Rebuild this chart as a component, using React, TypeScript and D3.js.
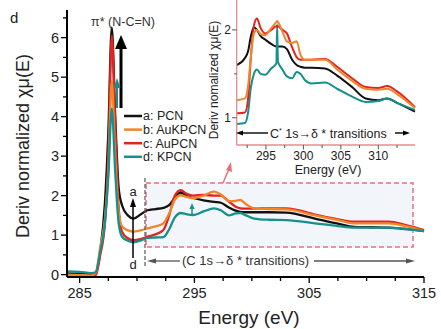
import React from "react";
import * as d3 from "d3";

const seriesNames = ["a: PCN", "b: AuKPCN", "c: AuPCN", "d: KPCN"];
const seriesColors = ["#111111", "#f0862a", "#e2231f", "#16908c"];

const mainEnergy = [283.9, 285, 286, 286.4, 286.8, 287.2, 287.5, 287.8, 288.1, 288.4, 288.7, 289.2, 289.7, 290.3, 290.9, 291.6, 292.3, 292.8, 293.3, 293.8, 294.3, 294.9, 295.8, 296.7, 297.3, 298.0, 298.6, 299.0, 299.5, 300.2, 301.5, 303.0, 305.5, 307.5, 308.9, 310.5, 311.9, 313.5, 315];
const mainPCN = [0.03, 0.02, 0.0, 0.05, 0.6, 1.8, 3.6, 6.25, 4.0, 2.2, 1.75, 1.5, 1.42, 1.52, 1.63, 1.66, 1.69, 1.76, 1.95, 2.08, 1.99, 1.94, 1.88, 1.84, 1.82, 1.7, 1.62, 1.59, 1.58, 1.58, 1.58, 1.57, 1.42, 1.29, 1.21, 1.2, 1.19, 1.15, 1.1];
const mainAuKPCN = [0.0, -0.01, -0.02, 0.05, 0.7, 1.4, 2.6, 4.9, 3.0, 1.6, 1.22, 1.12, 1.09, 1.12, 1.17, 1.22, 1.3, 1.55, 1.9, 2.01, 1.97, 1.94, 2.0, 2.1, 2.03, 1.86, 1.87, 1.89, 1.78, 1.68, 1.66, 1.65, 1.5, 1.38, 1.3, 1.3, 1.3, 1.22, 1.1];
const mainAuPCN = [-0.03, -0.05, -0.06, -0.02, 0.5, 1.3, 3.0, 6.05, 3.8, 1.7, 1.08, 0.92, 0.87, 0.9, 0.96, 1.02, 1.13, 1.5, 2.0, 2.14, 2.05, 2.0, 2.02, 2.0, 2.0, 1.85, 1.72, 1.68, 1.67, 1.67, 1.68, 1.68, 1.52, 1.4, 1.34, 1.34, 1.34, 1.25, 1.13];
const mainKPCN = [0.08, 0.07, 0.04, 0.06, 0.6, 1.3, 2.5, 4.2, 2.6, 1.3, 0.96, 0.86, 0.82, 0.86, 0.93, 0.94, 0.95, 1.15, 1.45, 1.56, 1.53, 1.51, 1.6, 1.68, 1.63, 1.5, 1.55, 1.56, 1.5, 1.42, 1.39, 1.38, 1.3, 1.23, 1.19, 1.19, 1.19, 1.15, 1.1];

const insetEnergy = [291.1, 292.2, 292.6, 293.0, 293.4, 293.8, 294.3, 294.9, 295.7, 296.4, 296.5, 296.6, 297.2, 297.8, 298.5, 299.1, 299.6, 300.2, 301.1, 302.9, 304.5, 306.5, 308.3, 310.0, 311.2, 312.5, 314.9];
const insetPCN = [1.6, 1.68, 1.75, 1.93, 2.03, 2.0, 1.93, 1.89, 1.84, 1.81, 1.81, 1.81, 1.81, 1.78, 1.66, 1.6, 1.58, 1.57, 1.57, 1.56, 1.48, 1.35, 1.22, 1.2, 1.22, 1.17, 1.07];
const insetAuKPCN = [1.2, 1.22, 1.35, 1.7, 1.96, 2.0, 1.95, 1.94, 2.02, 2.09, 2.1, 2.09, 1.98, 1.87, 1.85, 1.87, 1.72, 1.66, 1.66, 1.66, 1.55, 1.42, 1.33, 1.32, 1.33, 1.27, 1.11];
const insetAuPCN = [1.05, 1.06, 1.2, 1.7, 2.05, 2.13, 2.02, 1.96, 2.0, 2.04, 2.04, 2.04, 2.0, 1.96, 1.8, 1.69, 1.66, 1.66, 1.66, 1.67, 1.58, 1.45, 1.35, 1.34, 1.36, 1.3, 1.12];
const insetKPCN = [0.93, 0.94, 1.05, 1.35, 1.5, 1.55, 1.5, 1.49, 1.56, 1.62, 2.06, 1.64, 1.55, 1.47, 1.45, 1.52, 1.5, 1.43, 1.39, 1.4, 1.33, 1.24, 1.18, 1.19, 1.22, 1.17, 1.09];

const mainXTicks = [285, 295, 305, 315];
const mainYTicks = [0, 1, 2, 3, 4, 5, 6];
const insetXTicks = [295, 300, 305, 310];
const insetYTicks = [1, 2];

const FONT = "'Liberation Sans', Arial, Helvetica, sans-serif";

export default function App() {
  const x = d3.scaleLinear().domain([283.9, 315]).range([67, 424]);
  const y = d3.scaleLinear().domain([-0.06, 6.7]).range([277, 10]);
  const ix = d3.scaleLinear().domain([291.1, 314.9]).range([236.7, 415]);
  const iy = d3.scaleLinear().domain([0.69, 2.34]).range([145, 0]);

  const mainSeries = [mainPCN, mainAuKPCN, mainAuPCN, mainKPCN];
  const insetSeries = [insetPCN, insetAuKPCN, insetAuPCN, insetKPCN];
  const drawOrder = [0, 2, 1, 3];
  const insetOrder = [0, 3, 2, 1];

  const mainLine = (vals: number[]) =>
    d3.line<number>().x((_, i) => x(mainEnergy[i])).y((d) => y(d)).curve(d3.curveMonotoneX)(vals) || "";
  const insetLine = (vals: number[]) =>
    d3.line<number>().x((_, i) => ix(insetEnergy[i])).y((d) => iy(d)).curve(d3.curveMonotoneX)(vals) || "";

  const xMinor = d3.range(285, 315.1, 2.5);
  const yMinor = d3.range(0, 6.6, 0.5);
  const ixMinor = d3.range(292.5, 314.9, 2.5);
  const iyMinor = [1, 1.5, 2];

  const head = (tx: number, ty: number, dir: string, len: number, half: number) => {
    if (dir === "up") return `${tx},${ty} ${tx - half},${ty + len} ${tx + half},${ty + len}`;
    if (dir === "left") return `${tx},${ty} ${tx + len},${ty - half} ${tx + len},${ty + half}`;
    return `${tx},${ty} ${tx - len},${ty - half} ${tx - len},${ty + half}`;
  };

  return (
    <svg width={441} height={329} style={{ position: "absolute", left: 0, top: 0, background: "#fff" }} fontFamily={FONT}>
      <defs>
        <clipPath id="mainClip"><rect x={67} y={0} width={360} height={277} /></clipPath>
        <clipPath id="insetClip"><rect x={237} y={0} width={180} height={145} /></clipPath>
      </defs>

      {/* highlighted region */}
      <rect x={146} y={183} width={267} height={64} fill="#f2f6fb" stroke="#e8707a" strokeWidth={1.5} strokeDasharray="5,3" />

      {/* main curves */}
      <g clipPath="url(#mainClip)">
        {drawOrder.map((k) => (
          <path key={k} d={mainLine(mainSeries[k])} fill="none" stroke={seriesColors[k]} strokeWidth={2.3} strokeLinejoin="round" />
        ))}
      </g>

      {/* main axes */}
      <line x1={67} y1={277} x2={424} y2={277} stroke="#000" strokeWidth={2} />
      <line x1={67} y1={277} x2={67} y2={10} stroke="#000" strokeWidth={2} />
      {xMinor.map((t) => (
        <line key={"xm" + t} x1={x(t)} x2={x(t)} y1={277} y2={mainXTicks.includes(t) ? 283 : 281} stroke="#000" strokeWidth={1.3} />
      ))}
      {mainXTicks.map((t) => (
        <text key={"xt" + t} x={x(t)} y={298} fontSize={14.5} textAnchor="middle" fill="#222">{t}</text>
      ))}
      {yMinor.map((t) => (
        <line key={"ym" + t} x1={67} x2={Number.isInteger(t) ? 61 : 63} y1={y(t)} y2={y(t)} stroke="#000" strokeWidth={1.3} />
      ))}
      {mainYTicks.map((t) => (
        <text key={"yt" + t} x={59} y={y(t)} dy="0.36em" fontSize={14.5} textAnchor="end" fill="#222">{t}</text>
      ))}
      <text x={249} y={324} fontSize={19} textAnchor="middle" fill="#222">Energy (eV)</text>
      <text transform="translate(29,146) rotate(-90)" fontSize={18} textAnchor="middle" fill="#222">Deriv normalized χμ(E)</text>
      <text x={10} y={23} fontSize={15} fill="#222">d</text>

      {/* pi* annotation */}
      <text x={123} y={26} fontSize={12.5} textAnchor="middle" fill="#333">π* (N-C=N)</text>
      <line x1={121} y1={108} x2={121} y2={46} stroke="#000" strokeWidth={3} />
      <polygon points={head(121, 35, "up", 14, 6)} fill="#000" />
      <line x1={117} y1={108} x2={117} y2={86} stroke="#16908c" strokeWidth={2} />
      <polygon points={head(117, 78, "up", 10, 3.5)} fill="#16908c" />

      {/* legend */}
      {seriesNames.map((n, i) => (
        <g key={n}>
          <line x1={124} x2={142} y1={116 + i * 13.6} y2={116 + i * 13.6} stroke={seriesColors[i]} strokeWidth={2.5} />
          <text x={143} y={116 + i * 13.6} dy="0.35em" fontSize={12.5} fill="#222">{n}</text>
        </g>
      ))}

      {/* a-d arrow */}
      <line x1={133} y1={258} x2={133} y2={205} stroke="#000" strokeWidth={1.5} />
      <polygon points={head(133, 198, "up", 9, 3)} fill="#000" />
      <text x={133} y={196} fontSize={13} textAnchor="middle" fill="#222">a</text>
      <text x={133} y={269} fontSize={13} textAnchor="middle" fill="#222">d</text>

      {/* small teal arrow */}
      <line x1={192} y1={215} x2={192} y2={208} stroke="#16908c" strokeWidth={1.5} />
      <polygon points={head(192, 203, "up", 6, 2.5)} fill="#16908c" />

      {/* dashed vertical */}
      <line x1={145} x2={145} y1={178} y2={268} stroke="#666" strokeWidth={1.3} strokeDasharray="4,2" />

      {/* bottom annotation */}
      <line x1={152} x2={180} y1={261} y2={261} stroke="#555" strokeWidth={1.3} />
      <polygon points={head(147, 261, "left", 9, 2.5)} fill="#555" />
      <text x={182} y={265} fontSize={13} fill="#333">(C 1s→δ *  transitions)</text>
      <line x1={314} x2={408} y1={261} y2={261} stroke="#555" strokeWidth={1.3} />
      <polygon points={head(415, 261, "right", 9, 2.5)} fill="#555" />

      {/* pink arrow to inset */}
      <line x1={223} y1={183} x2={229} y2={169} stroke="#e8707a" strokeWidth={1.5} />
      <polygon points="231,162 226,170 232,172" fill="#e8707a" />

      {/* inset curves */}
      <g clipPath="url(#insetClip)">
        {insetOrder.map((k) => (
          <path key={"i" + k} d={insetLine(insetSeries[k])} fill="none" stroke={seriesColors[k]} strokeWidth={2} strokeLinejoin="round" />
        ))}
      </g>

      {/* inset axes */}
      <line x1={236.7} y1={145} x2={415} y2={145} stroke="#e88a8f" strokeWidth={1.3} />
      <line x1={236.7} y1={145} x2={236.7} y2={0} stroke="#e88a8f" strokeWidth={1.3} />
      {ixMinor.map((t) => (
        <line key={"ixm" + t} x1={ix(t)} x2={ix(t)} y1={145} y2={insetXTicks.includes(t) ? 149.5 : 148} stroke="#555" strokeWidth={1} />
      ))}
      {insetXTicks.map((t) => (
        <text key={"ixt" + t} x={ix(t)} y={160} fontSize={12} textAnchor="middle" fill="#222">{t}</text>
      ))}
      {iyMinor.map((t) => (
        <line key={"iym" + t} x1={236.7} x2={Number.isInteger(t) ? 232 : 234} y1={iy(t)} y2={iy(t)} stroke="#555" strokeWidth={1} />
      ))}
      {insetYTicks.map((t) => (
        <text key={"iyt" + t} x={231} y={iy(t)} dy="0.36em" fontSize={12} textAnchor="end" fill="#222">{t}</text>
      ))}
      <text x={328} y={174} fontSize={12.5} textAnchor="middle" fill="#222">Energy (eV)</text>
      <text transform="translate(218,80) rotate(-90)" fontSize={12} textAnchor="middle" fill="#222">Deriv nomalized χμ(E)</text>

      {/* inset annotation */}
      <line x1={241} x2={268} y1={133} y2={133} stroke="#000" strokeWidth={1.4} />
      <polygon points={head(236, 133, "left", 7, 2.5)} fill="#000" />
      <text x={270} y={137.5} fontSize={12.5} fill="#222">
        C<tspan fontSize={7} dy={-5}>*</tspan>
        <tspan dy={5}> 1s→δ *  transitions</tspan>
      </text>
      <line x1={395} x2={404} y1={133} y2={133} stroke="#000" strokeWidth={1.4} />
      <polygon points={head(410, 133, "right", 7, 2.5)} fill="#000" />
    </svg>
  );
}
